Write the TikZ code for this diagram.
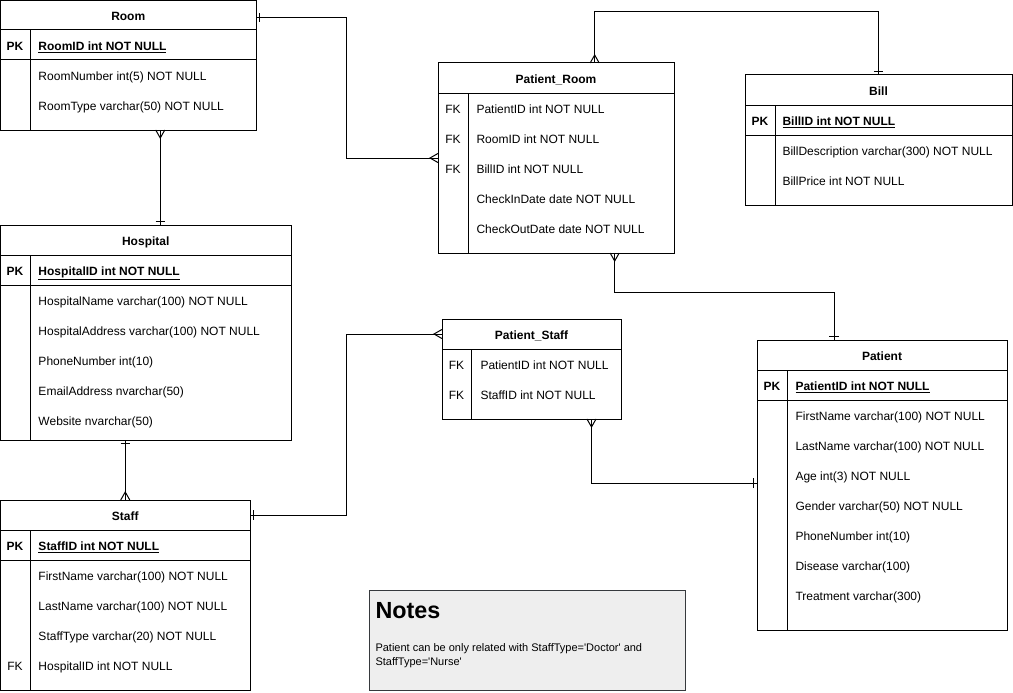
\documentclass[tikz,border=0pt]{standalone}
\usepackage{fontspec}
\setmainfont{Liberation Sans}
\usetikzlibrary{fit,decorations.markings}

\definecolor{notefill}{HTML}{EEEEEE}
\definecolor{noteline}{HTML}{36393D}

\begin{document}
\begin{tikzpicture}[x=0.75pt, y=-0.75pt, line width=0.75pt,
    font=\fontsize{9}{11}\selectfont,
    tbl/.style={draw, inner sep=0pt, outer sep=0pt},
    key/.style={inner sep=0pt, text height=7.6pt, text depth=0pt},
    pkey/.style={key, font=\fontsize{9}{11}\selectfont\bfseries},
    title/.style={key, font=\fontsize{9}{11}\selectfont\bfseries},
    head/.style={tbl, label={[title]center:#1}},
    field/.style={key, anchor=west},
    pkfield/.style={field, font=\fontsize{9}{11}\selectfont\bfseries},
    one start/.style={postaction={decorate, decoration={markings,
        mark=at position 2.6pt with {\draw (0pt,-3.4pt) -- (0pt,3.4pt);}}}},
    one end/.style={postaction={decorate, decoration={markings,
        mark=at position -2.6pt with {\draw (0pt,-3.4pt) -- (0pt,3.4pt);}}}},
    many start/.style={postaction={decorate, decoration={markings,
        mark=at position 0 with {\draw (0pt,-3.4pt) -- (6pt,0pt) -- (0pt,3.4pt);}}}},
    many end/.style={postaction={decorate, decoration={markings,
        mark=at position 1 with {\draw (0pt,-3.4pt) -- (-6pt,0pt) -- (0pt,3.4pt);}}}}]
    \useasboundingbox (0,0) rectangle (1013,692);

    % Room
    \node[tbl, fit={(0.5,0.5) (256,130)}] (room) {};
    \node[head=Room, fit={(0.5,0.5) (256,30)}] (roomT) {};
    \draw (0.5,60) -- (256,60);
    \draw (30,30) -- (30,130);
    \node[pkey] (room-k1) at (15,45) {PK};
    \node[pkfield] (room-1) at (38,45) {\underline{RoomID int NOT NULL}};
    \foreach \i/\t in {2/RoomNumber int(5) NOT NULL, 3/RoomType varchar(50) NOT NULL}
      \node[field] (room-\i) at (38,15+30*\i) {\t};

    % Hospital
    \node[tbl, fit={(0.5,225) (291,440)}] (hosp) {};
    \node[head=Hospital, fit={(0.5,225) (291,255)}] (hospT) {};
    \draw (0.5,285) -- (291,285);
    \draw (30,255) -- (30,440);
    \node[pkey] (hosp-k1) at (15,270) {PK};
    \node[pkfield] (hosp-1) at (38,270) {\underline{HospitalID int NOT NULL}};
    \foreach \i/\t in {2/HospitalName varchar(100) NOT NULL, 3/HospitalAddress varchar(100) NOT NULL,
        4/PhoneNumber int(10), 5/EmailAddress nvarchar(50), 6/Website nvarchar(50)}
      \node[field] (hosp-\i) at (38,240+30*\i) {\t};

    % Staff
    \node[tbl, fit={(0.5,500) (250,690)}] (staff) {};
    \node[head=Staff, fit={(0.5,500) (250,530)}] (staffT) {};
    \draw (0.5,560) -- (250,560);
    \draw (30,530) -- (30,690);
    \node[pkey] (staff-k1) at (15,545) {PK};
    \node[pkfield] (staff-1) at (38,545) {\underline{StaffID int NOT NULL}};
    \foreach \i/\t in {2/FirstName varchar(100) NOT NULL, 3/LastName varchar(100) NOT NULL,
        4/StaffType varchar(20) NOT NULL, 5/HospitalID int NOT NULL}
      \node[field] (staff-\i) at (38,515+30*\i) {\t};
    \node[key] (staff-k5) at (15,665) {FK};

    % Patient_Room
    \node[tbl, fit={(438,63) (674,253)}] (proom) {};
    \node[head=Patient\_Room, fit={(438,63) (674,93)}] (proomT) {};
    \draw (468,93) -- (468,253);
    \foreach \i/\t in {1/PatientID int NOT NULL, 2/RoomID int NOT NULL, 3/BillID int NOT NULL,
        4/CheckInDate date NOT NULL, 5/CheckOutDate date NOT NULL}
      \node[field] (proom-\i) at (476,78+30*\i) {\t};
    \foreach \i in {1,2,3}
      \node[key] (proom-k\i) at (453,78+30*\i) {FK};

    % Bill
    \node[tbl, fit={(745,75) (1012,205)}] (bill) {};
    \node[head=Bill, fit={(745,75) (1012,105)}] (billT) {};
    \draw (745,135) -- (1012,135);
    \draw (775,105) -- (775,205);
    \node[pkey] (bill-k1) at (760,120) {PK};
    \node[pkfield] (bill-1) at (782,120) {\underline{BillID int NOT NULL}};
    \foreach \i/\t in {2/BillDescription varchar(300) NOT NULL, 3/BillPrice int NOT NULL}
      \node[field] (bill-\i) at (782,90+30*\i) {\t};

    % Patient_Staff
    \node[tbl, fit={(442,319) (621,419)}] (pstaff) {};
    \node[head=Patient\_Staff, fit={(442,319) (621,349)}] (pstaffT) {};
    \draw (471,349) -- (471,419);
    \foreach \i/\t in {1/PatientID int NOT NULL, 2/StaffID int NOT NULL} {
      \node[key] (pstaff-k\i) at (456.5,334+30*\i) {FK};
      \node[field] (pstaff-\i) at (480,334+30*\i) {\t};
    }

    % Patient
    \node[tbl, fit={(757,340) (1007,630)}] (pat) {};
    \node[head=Patient, fit={(757,340) (1007,370)}] (patT) {};
    \draw (757,400) -- (1007,400);
    \draw (787,370) -- (787,630);
    \node[pkey] (pat-k1) at (772,385) {PK};
    \node[pkfield] (pat-1) at (795,385) {\underline{PatientID int NOT NULL}};
    \foreach \i/\t in {2/FirstName varchar(100) NOT NULL, 3/LastName varchar(100) NOT NULL,
        4/Age int(3) NOT NULL, 5/Gender varchar(50) NOT NULL, 6/PhoneNumber int(10),
        7/Disease varchar(100), 8/Treatment varchar(300)}
      \node[field] (pat-\i) at (795,355+30*\i) {\t};

    % Notes
    \node[draw=noteline, fill=notefill, inner sep=0pt, fit={(369.5,590.5) (685.5,690)}] (notes) {};
    \node[anchor=base west, inner sep=0pt, font=\fontsize{17.5}{20}\selectfont\bfseries] (notesT) at (375,618) {Notes};
    \node[anchor=base west, inner sep=0pt, font=\fontsize{8.25}{10}\selectfont] (notes-1) at (375,651.5)
      {Patient can be only related with StaffType=\textquotesingle Doctor\textquotesingle\ and};
    \node[anchor=base west, inner sep=0pt, font=\fontsize{8.25}{10}\selectfont] (notes-2) at (375,665.5)
      {StaffType=\textquotesingle Nurse\textquotesingle};

    % relationships
    \draw[one start, many end] ([yshift=-1.5pt]roomT.east) -- ++(90,0) |- (proom.west);
    \draw[many start, one end] ([xshift=24pt]room.south) -- ([xshift=24pt]room.south |- hosp.north);
    \draw[one start, many end] (hosp.south -| staff.north) -- (staff.north);
    \draw[one start, many end] (staffT.east) -- ++(96,0) |- (pstaffT.west);
    \draw[many start, one end] ([xshift=29pt]proom.north) -- ++(0,-51) -| (bill.north);
    \draw[many start, one end] ([xshift=44pt]proom.south) -- ++(0,39) -| ([xshift=-36pt]pat.north);
    \draw[many start, one end] ([xshift=45pt]pstaff.south) |- ([yshift=1.5pt]pat.west);
\end{tikzpicture}
\end{document}
